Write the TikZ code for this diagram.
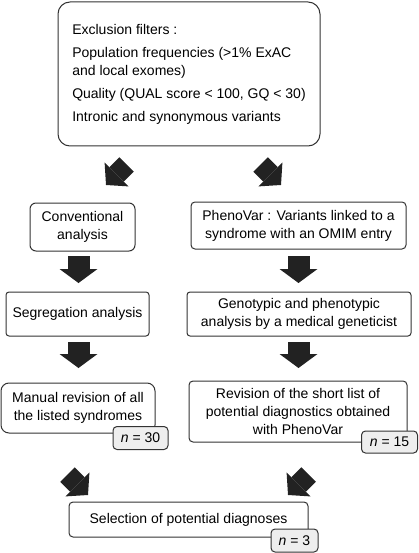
\documentclass[tikz,border=0pt]{standalone}
\usepackage{fontspec}
\setmainfont{Liberation Sans}
\usetikzlibrary{positioning}
\usetikzlibrary{arrows.meta}
\definecolor{boxline}{HTML}{333333}
\definecolor{countfill}{HTML}{EEEEEE}
\definecolor{arrowfill}{HTML}{222222}

\begin{document}
\begin{tikzpicture}[x=1pt,y=-1pt,font=\fontsize{14}{18}\selectfont]
\tikzstyle{stage}=[draw=boxline,line width=1pt,rounded corners=4pt,align=center,inner sep=0pt]
\tikzstyle{count}=[draw=boxline,line width=1pt,fill=countfill,rounded corners=4pt,inner sep=0pt,minimum height=23pt]
\tikzstyle{downarrow}=[draw=arrowfill,line width=22pt,-{Triangle[length=14pt,width=38pt,line width=0pt]}]
\tikzstyle{diagarrow}=[draw=arrowfill,line width=20.5pt,-{Triangle[length=15pt,width=34pt,line width=0pt]}]

% \draw[help lines] (0,0) grid (418,553);
\useasboundingbox (0,0) rectangle (418,553);

\node[stage,rounded corners=12pt,align=left,minimum width=262pt,minimum height=144pt] (filters) at (189,74) {Exclusion filters :\\[5pt] Population frequencies (>1\% ExAC\\and local exomes)\\[5pt] Quality (QUAL score < 100, GQ < 30)\\[5pt] Intronic and synonymous variants};

\node[stage,rounded corners=6pt,minimum width=105pt,minimum height=48pt] (conv) at (82.5,227) {Conventional\\analysis};
\node[stage,minimum width=215pt,minimum height=47pt] (pheno) at (298.5,225.5) {PhenoVar : Variants linked to a\\syndrome with an OMIM entry};

\node[stage,rounded corners=3pt,minimum width=143pt,minimum height=44pt] (segr) at (77.5,314) {Segregation analysis};
\node[stage,rounded corners=3pt,minimum width=224pt,minimum height=44pt] (geno) at (299,314) {Genotypic and phenotypic\\analysis by a medical geneticist};

\node[stage,rounded corners=8pt,minimum width=154pt,minimum height=50pt] (manual) at (78,408) {Manual revision of all\\the listed syndromes};
\node[count,minimum width=55pt] (nmanual) at (140.5,438) {{\itshape n} = 30};

\node[stage,minimum width=218pt,minimum height=61pt] (revision) at (298,411.5) {Revision of the short list of\\potential diagnostics obtained\\with PhenoVar};
\node[count,minimum width=56pt,minimum height=22pt] (nrevision) at (389.5,442) {{\itshape n} = 15};

\node[stage,minimum width=239pt,minimum height=35pt] (select) at (188.5,519.5) {Selection of potential diagnoses};
\node[count,minimum width=47pt] (nselect) at (294.5,540.5) {{\itshape n} = 3};

% block arrows
\coordinate (convIn) at (126.5,164.5);
\coordinate (convTip) at (106,185);
\coordinate (phenoIn) at (260.5,164.5);
\coordinate (phenoTip) at (281,185);
\coordinate (segrIn) at (78.5,256);
\coordinate (segrTip) at (78.5,283);
\coordinate (genoIn) at (298.5,256);
\coordinate (genoTip) at (298.5,283);
\coordinate (manualIn) at (78.5,342);
\coordinate (manualTip) at (78.5,368);
\coordinate (revisionIn) at (298.5,342);
\coordinate (revisionTip) at (298.5,368);
\coordinate (selectInL) at (67.5,474.5);
\coordinate (selectTipL) at (88,495);
\coordinate (selectInR) at (308.5,474.5);
\coordinate (selectTipR) at (288,495);

\draw[diagarrow] (convIn) -- (convTip);
\draw[diagarrow] (phenoIn) -- (phenoTip);
\draw[downarrow] (segrIn) -- (segrTip);
\draw[downarrow] (genoIn) -- (genoTip);
\draw[downarrow] (manualIn) -- (manualTip);
\draw[downarrow] (revisionIn) -- (revisionTip);
\draw[diagarrow] (selectInL) -- (selectTipL);
\draw[diagarrow] (selectInR) -- (selectTipR);
\end{tikzpicture}
\end{document}
